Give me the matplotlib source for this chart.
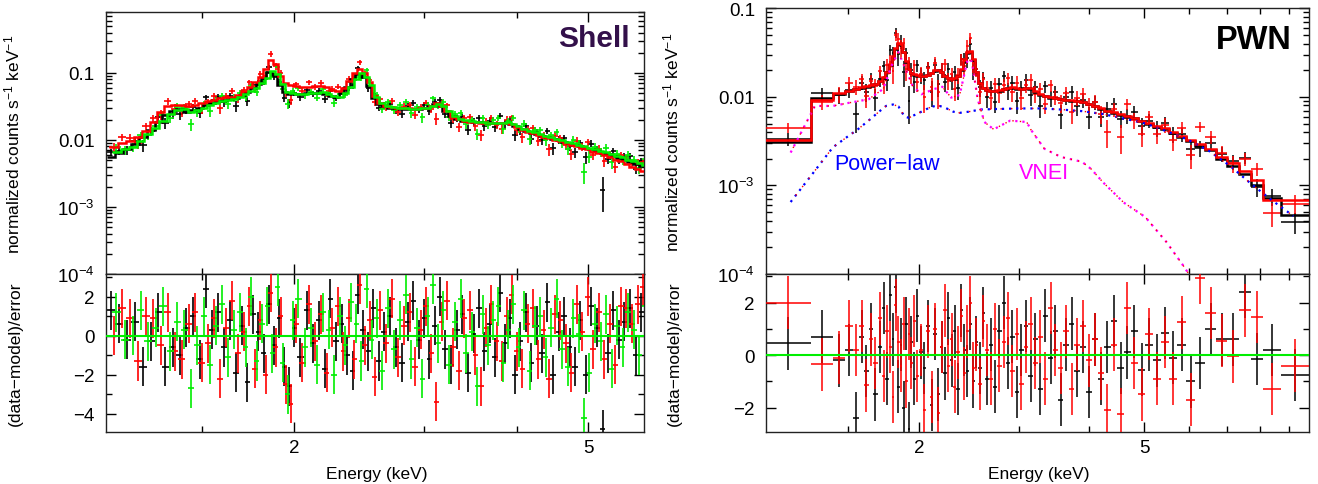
import numpy as np
import matplotlib
matplotlib.use("Agg")
import matplotlib.pyplot as plt
from matplotlib.ticker import FixedLocator, FixedFormatter, NullFormatter

# ======================= DATA : Shell (left) =======================
shell_energy_black = [
    1.13, 1.16, 1.19, 1.22, 1.25, 1.28, 1.31, 1.34, 1.37, 1.40,
    1.43, 1.46, 1.49, 1.52, 1.55, 1.58, 1.61, 1.64, 1.67, 1.70,
    1.73, 1.76, 1.79, 1.82, 1.85, 1.88, 1.91, 1.94, 1.97, 2.00,
    2.04, 2.08, 2.12, 2.16, 2.20, 2.24, 2.28, 2.32, 2.36, 2.40,
    2.44, 2.48, 2.52, 2.56, 2.60, 2.65, 2.70, 2.75, 2.80, 2.85,
    2.90, 2.95, 3.00, 3.05, 3.10, 3.15, 3.20, 3.26, 3.32, 3.38,
    3.44, 3.50, 3.56, 3.62, 3.68, 3.74, 3.80, 3.86, 3.92, 3.98,
    4.05, 4.12, 4.19, 4.26, 4.33, 4.40, 4.48, 4.56, 4.64, 4.72,
    4.80, 4.88, 4.96, 5.05, 5.14, 5.23, 5.32, 5.41, 5.50, 5.60,
    5.70, 5.80, 5.90]

shell_energy_red = [
    1.14, 1.17, 1.20, 1.23, 1.26, 1.29, 1.32, 1.35, 1.38, 1.41,
    1.44, 1.47, 1.50, 1.53, 1.56, 1.59, 1.62, 1.65, 1.68, 1.71,
    1.74, 1.77, 1.80, 1.83, 1.86, 1.89, 1.92, 1.95, 1.98, 2.013,
    2.053, 2.093, 2.133, 2.173, 2.213, 2.253, 2.293, 2.333, 2.373, 2.413,
    2.453, 2.493, 2.533, 2.573, 2.613, 2.667, 2.717, 2.767, 2.817, 2.867,
    2.917, 2.967, 3.017, 3.067, 3.117, 3.167, 3.22, 3.28, 3.34, 3.40,
    3.46, 3.52, 3.58, 3.64, 3.70, 3.76, 3.82, 3.88, 3.94, 4.003,
    4.073, 4.143, 4.213, 4.283, 4.353, 4.427, 4.507, 4.587, 4.667, 4.747,
    4.827, 4.907, 4.99, 5.08, 5.17, 5.26, 5.35, 5.44, 5.533, 5.633,
    5.733, 5.833, 5.93]

shell_energy_green = [
    1.15, 1.18, 1.21, 1.24, 1.27, 1.30, 1.33, 1.36, 1.39, 1.42,
    1.45, 1.48, 1.51, 1.54, 1.57, 1.60, 1.63, 1.66, 1.69, 1.72,
    1.75, 1.78, 1.81, 1.84, 1.87, 1.90, 1.93, 1.96, 1.99, 2.027,
    2.067, 2.107, 2.147, 2.187, 2.227, 2.267, 2.307, 2.347, 2.387, 2.427,
    2.467, 2.507, 2.547, 2.587, 2.633, 2.683, 2.733, 2.783, 2.833, 2.883,
    2.933, 2.983, 3.033, 3.083, 3.133, 3.183, 3.24, 3.30, 3.36, 3.42,
    3.48, 3.54, 3.60, 3.66, 3.72, 3.78, 3.84, 3.90, 3.96, 4.027,
    4.097, 4.167, 4.237, 4.307, 4.377, 4.453, 4.533, 4.613, 4.693, 4.773,
    4.853, 4.933, 5.02, 5.11, 5.20, 5.29, 5.38, 5.47, 5.567, 5.667,
    5.767, 5.867, 5.96]

shell_model_black = [
    .0055, .0063, .0073, .0088, .0110, .0140, .0185, .0235, .0270, .0285,
    .0265, .0275, .0300, .0330, .0355, .0375, .0395, .0405, .0425, .0470,
    .0520, .0590, .0690, .0840, .1030, .0930, .0670, .0510, .0490, .0480,
    .0485, .0495, .0500, .0505, .0485, .0445, .0435, .0495, .0610, .0810,
    .0970, .0870, .0640, .0425, .0347, .0318, .0303, .0297, .0294, .0292,
    .0291, .0294, .0299, .0318, .0342, .0318, .0268, .0224, .0204, .0194,
    .0189, .0185, .0182, .0180, .0179, .0179, .0179, .0181, .0174, .0159,
    .0147, .0137, .0129, .0121, .0115, .0110, .0104, .0099, .0093, .0089,
    .0084, .0080, .0076, .0072, .0068, .0064, .0061, .0057, .0054, .0050,
    .0047, .0044, .0041]

shell_model_red = [
    .0078, .0090, .0095, .0111, .0138, .0185, .0260, .0320, .0330, .0330,
    .0320, .0330, .0360, .0380, .0400, .0420, .0430, .0440, .0470, .0540,
    .0620, .0720, .0880, .1150, .1550, .1350, .0900, .0700, .0650, .0630,
    .0620, .0625, .0630, .0640, .0610, .0560, .0540, .0600, .0750, .0980,
    .1150, .1000, .0720, .0460, .0360, .0325, .0308, .0300, .0297, .0295,
    .0294, .0297, .0302, .0325, .0350, .0322, .0270, .0223, .0203, .0192,
    .0187, .0183, .0180, .0178, .0176, .0176, .0176, .0178, .0170, .0155,
    .0143, .0133, .0125, .0117, .0111, .0106, .0100, .0095, .0089, .0084,
    .0080, .0076, .0072, .0067, .0063, .0059, .0055, .0051, .0048, .0044,
    .0040, .0037, .0034]

shell_model_green = [
    .0066, .0072, .0079, .0098, .0123, .0150, .0194, .0244, .0280, .0290,
    .0265, .0275, .0300, .0330, .0360, .0380, .0400, .0410, .0430, .0480,
    .0530, .0600, .0700, .0850, .1050, .0950, .0680, .0520, .0500, .0490,
    .0490, .0500, .0505, .0510, .0490, .0450, .0440, .0500, .0620, .0820,
    .0980, .0880, .0650, .0430, .0350, .0320, .0305, .0298, .0295, .0293,
    .0292, .0295, .0300, .0320, .0345, .0320, .0270, .0225, .0205, .0195,
    .0190, .0186, .0183, .0181, .0180, .0180, .0180, .0182, .0175, .0160,
    .0148, .0138, .0130, .0122, .0116, .0111, .0105, .0100, .0094, .0090,
    .0085, .0081, .0077, .0073, .0069, .0065, .0062, .0058, .0055, .0051,
    .0048, .0045, .0042]

shell_relerr = [
    .15, .15, .15, .15, .15, .15, .15, .15, .15, .15,
    .13, .13, .13, .13, .13, .13, .13, .13, .13, .13,
    .11, .11, .11, .11, .11, .11, .11, .11, .11, .11,
    .10, .10, .10, .10, .10, .10, .10, .10, .10, .10,
    .10, .10, .10, .10, .10, .12, .12, .12, .12, .12,
    .12, .12, .12, .12, .12, .12, .12, .13, .13, .13,
    .13, .13, .13, .13, .13, .13, .13, .13, .13, .13,
    .14, .14, .14, .14, .14, .14, .14, .14, .14, .14,
    .14, .14, .14, .15, .15, .15, .15, .15, .15, .15,
    .15, .15, .15]

shell_resid_black = [
    1.3, 0.6, -0.2, 0.7, -1.6, -0.3, 1.2, -1.6, -0.6, -1.0,
    0.4, 1.0, -1.2, 2.4, 0.3, 1.2, -0.6, 0.8, -1.9, 0.5,
    -2.4, 1.1, 0.2, -0.9, 1.6, -0.5, 0.9, -1.6, -2.6, 0.4,
    -1.1, 1.3, -0.4, 0.8, -1.7, 1.9, -0.3, 0.6, -1.0, -1.8,
    2.1, 0.3, -0.8, 1.4, -1.3, 0.2, 1.0, -0.6, -1.4, 0.7,
    1.8, -0.2, 0.9, -1.2, 0.5, 2.0, -0.7, -1.5, 0.3, 1.1,
    -1.9, 0.1, 1.4, -0.8, 0.6, -1.1, 2.2, -0.4, 0.9, -2.0,
    -0.3, 1.2, -1.4, 0.5, -0.9, 1.7, -2.0, 0.2, 1.0, -0.6,
    -1.6, 0.8, -2.0, 1.5, 0.4, -4.8, -0.9, 1.3, -0.2, 0.7,
    1.4, -1.0, 1.2]

shell_resid_red = [
    0.0, 1.4, 0.9, -1.3, 1.0, 0.9, -0.5, 1.2, -0.8, -1.2,
    0.6, 1.2, -1.4, -0.4, 0.9, -2.2, 0.4, 1.8, -0.9, 0.2,
    1.5, -1.7, 0.8, -2.0, 2.2, -0.6, 1.0, -2.5, -3.5, 0.6,
    -1.4, 1.6, -0.3, 1.1, -1.9, 0.4, 1.5, -0.8, 0.9, -1.2,
    2.6, -0.5, 0.8, -2.1, 1.3, -0.4, 1.9, -1.1, 0.5, 1.2,
    -1.6, 0.3, 1.5, -0.9, -3.4, 0.7, 1.8, -0.6, -1.8, 0.9,
    1.3, -1.0, -2.6, 0.4, 1.6, -0.3, -1.3, 1.0, 2.1, -0.8,
    -1.7, 0.6, 1.4, -1.2, 0.3, -2.2, 1.1, 0.8, -0.4, -1.9,
    1.6, 0.2, 2.0, -0.7, 1.2, -1.2, 0.6, -1.5, 1.5, 1.4,
    0.6, 1.6, 2.5]

shell_resid_green = [
    1.2, -0.2, 0.0, 1.3, -0.3, 0.4, 1.5, -0.8, 0.7, 0.3,
    -2.7, -0.5, 1.0, -1.5, 0.5, 1.6, -1.1, 0.3, 1.2, -0.6,
    2.0, -1.3, 0.6, 1.5, -0.9, 2.5, -1.4, -3.0, 0.8, 1.9,
    -0.6, 0.4, -1.5, 1.2, 0.3, -2.0, 1.0, -0.5, 1.7, 0.6,
    -1.3, 2.4, -0.2, 0.9, -1.8, 1.4, -0.7, 0.8, 2.1, -1.2,
    0.4, -2.2, 1.0, 2.6, -0.4, 1.3, -1.5, 0.7, 1.9, -0.9,
    0.2, -2.6, 1.1, -0.5, 0.8, 1.5, -1.4, 0.3, 1.6, -0.6,
    1.3, -1.8, 0.5, 1.0, -1.1, 0.4, 1.9, -0.7, -1.6, 0.9,
    0.1, -4.2, -1.9, 0.6, -0.3, 1.1, -1.7, 0.5, -0.6, 1.2,
    0.3, -1.0, 1.5]

# ======================= DATA : PWN (right) =======================
pwn_edges = [
    1.07, 1.29, 1.41, 1.48, 1.53, 1.57, 1.60, 1.63, 1.66, 1.69,
    1.72, 1.745, 1.77, 1.79, 1.81, 1.83, 1.85, 1.87, 1.89, 1.91,
    1.93, 1.95, 1.975, 2.00, 2.03, 2.06, 2.09, 2.12, 2.15, 2.18,
    2.21, 2.24, 2.27, 2.30, 2.33, 2.36, 2.39, 2.42, 2.45, 2.48,
    2.51, 2.54, 2.58, 2.62, 2.66, 2.70, 2.75, 2.80, 2.85, 2.90,
    2.95, 3.00, 3.06, 3.12, 3.18, 3.24, 3.31, 3.38, 3.45, 3.52,
    3.60, 3.68, 3.76, 3.85, 3.94, 4.04, 4.14, 4.25, 4.36, 4.48,
    4.60, 4.73, 4.87, 5.02, 5.18, 5.35, 5.53, 5.72, 5.93, 6.15,
    6.40, 6.70, 7.00, 7.35, 7.72, 8.10, 8.70, 9.77]

pwn_model_black = [
    .0031, .0097, .0108, .0115, .0122, .0127, .0130, .0133, .0138, .0150,
    .0165, .0190, .0230, .0280, .0350, .0400, .0390, .0320, .0250, .0205,
    .0185, .0178, .0174, .0172, .0172, .0176, .0185, .0196, .0200, .0190,
    .0172, .0162, .0158, .0160, .0170, .0200, .0250, .0310, .0320, .0260,
    .0190, .0142, .0125, .0120, .0117, .0116, .0118, .0122, .0126, .0127,
    .0124, .0122, .0126, .0124, .0114, .0106, .0101, .0098, .0096, .0094,
    .0092, .0091, .0089, .0087, .0083, .0078, .0073, .0069, .0066, .0063,
    .0060, .0057, .0053, .0050, .0046, .0043, .0039, .0035, .0032, .0028,
    .0025, .0020, .00165, .00135, .0010, .00072, .00046]

pwn_model_red = [
    .0033, .0093, .0110, .0117, .0124, .0129, .0132, .0135, .0140, .0152,
    .0167, .0193, .0235, .0290, .0360, .0410, .0395, .0325, .0255, .0208,
    .0187, .0180, .0176, .0174, .0174, .0178, .0188, .0199, .0203, .0192,
    .0174, .0164, .0160, .0162, .0172, .0205, .0260, .0320, .0330, .0265,
    .0192, .0144, .0127, .0121, .0118, .0117, .0119, .0123, .0127, .0128,
    .0125, .0123, .0127, .0125, .0115, .0107, .0102, .0099, .0097, .0095,
    .0093, .0092, .0090, .0088, .0084, .0079, .0074, .0070, .0067, .0064,
    .0061, .0058, .0054, .0051, .0047, .0044, .0040, .0036, .0033, .0029,
    .0026, .0021, .0018, .00145, .00115, .00068, .00068]

pwn_relerr = [
    .18, .18, .20, .20, .20, .20, .20, .20, .20, .20,
    .20, .20, .20, .20, .20, .20, .20, .20, .20, .20,
    .20, .20, .20, .20, .20, .20, .20, .20, .20, .20,
    .20, .20, .20, .20, .20, .20, .20, .20, .20, .20,
    .20, .20, .20, .20, .20, .20, .20, .20, .20, .20,
    .20, .20, .20, .20, .20, .20, .20, .20, .20, .20,
    .20, .20, .20, .20, .20, .20, .20, .20, .20, .20,
    .20, .20, .20, .20, .20, .20, .20, .20, .20, .20,
    .22, .22, .22, .22, .22, .22, .22]

pwn_resid_black = [
    0.45, 0.7, -0.2, 0.2, -2.4, 0.7, -0.6, 1.0, -1.5, 0.3,
    1.8, -0.9, 2.3, 0.6, 2.6, -1.2, 0.4, -2.0, 1.2, -2.8,
    0.5, -0.9, 1.5, 0.1, -0.5, 1.1, -1.9, 0.8, -1.5, 0.3,
    -0.7, 1.4, -0.2, 0.9, -1.3, 1.7, 0.2, -0.6, 1.2, -1.0,
    0.5, -0.5, 1.6, -0.9, 0.4, -1.2, 0.9, 2.0, -0.3, 0.7,
    -1.4, 0.2, 1.1, -0.8, 0.6, -1.3, 1.5, -0.1, 0.9, -1.7,
    0.4, 1.2, -0.6, 0.3, -1.4, 0.6, -0.9, 0.3, 1.3, -0.5,
    0.1, 0.9, -0.55, 0.4, -0.2, 0.85, -0.1, 0.4, -1.0, -0.3,
    1.0, 0.6, 0.6, 2.4, -0.15, 0.2, -0.75]

pwn_resid_red = [
    2.0, -0.35, -0.1, 1.1, 0.2, 1.1, -1.15, 0.6, -0.3, 1.4,
    -0.8, 0.9, 0.3, -1.6, 1.9, 0.5, -0.4, 1.2, -1.0, 0.8,
    -0.3, 1.3, -0.8, 0.2, -2.1, 0.9, -1.6, 1.0, -2.2, 0.3,
    1.7, -0.4, 0.6, -1.2, 0.1, 1.5, -0.7, 0.9, 2.0, -0.5,
    0.4, -1.1, 1.3, 0.2, -0.9, 1.0, -0.4, 0.5, 1.4, -0.6,
    0.8, -1.1, 0.3, 1.2, -0.3, 0.7, -0.9, 1.8, 0.2, -0.5,
    0.9, -1.3, 0.4, 1.1, -0.2, 0.6, -0.7, -2.1, 0.4, -2.25,
    1.8, -0.3, -1.5, 0.8, -0.9, 0.5, -0.9, 1.25, -1.7, 2.95,
    1.6, 0.55, -0.05, 1.7, 1.45, -1.3, -0.4]

# model components (PWN)
powerlaw_energy = [1.187, 1.29, 1.41, 1.50, 1.56, 1.63, 1.70, 1.75, 1.80, 1.84,
                   1.886, 1.92, 1.95, 2.02, 2.10, 2.16, 2.22, 2.30, 2.36, 2.45,
                   2.57, 2.75, 3.00, 3.30, 3.56, 3.88, 4.23, 4.60, 5.02, 5.47,
                   5.96, 6.50, 7.08, 7.71, 8.40, 8.97, 9.16]
powerlaw_flux = [0.00065, 0.00129, 0.0027, 0.0036, 0.0043, 0.0054, 0.0068, 0.0079, 0.0082, 0.0078,
                 0.0060, 0.0058, 0.0061, 0.0068, 0.0077, 0.0080, 0.0076, 0.0068, 0.0066, 0.0068,
                 0.0072, 0.0073, 0.0074, 0.0074, 0.0072, 0.0069, 0.0064, 0.0057, 0.0050, 0.0041,
                 0.0033, 0.00246, 0.00167, 0.00105, 0.00068, 0.00050, 0.00045]
vnei_energy = [1.187, 1.29, 1.31, 1.41, 1.51, 1.63, 1.73, 1.79, 1.84, 1.886,
               1.95, 2.02, 2.13, 2.20, 2.28, 2.36, 2.44, 2.48, 2.54, 2.61,
               2.71, 2.90, 3.10, 3.15, 3.33, 3.56, 3.88, 4.03, 4.23, 4.60,
               5.02, 5.47, 5.86, 6.06, 6.50]
vnei_flux = [0.00235, 0.0065, 0.0079, 0.0079, 0.0086, 0.0094, 0.0123, 0.0226, 0.032, 0.022,
             0.0133, 0.0107, 0.0123, 0.0130, 0.0098, 0.0105, 0.027, 0.025, 0.0094, 0.0052,
             0.0043, 0.0054, 0.0052, 0.0043, 0.0026, 0.0021, 0.00185, 0.00153, 0.00108, 0.00064,
             0.00044, 0.00023, 0.000124, 0.00009, 0.00005]

# ======================= PLOTTING =======================
plt.rcParams['font.family'] = ['Liberation Sans', 'DejaVu Sans']
plt.rcParams['mathtext.default'] = 'regular'
plt.rcParams['axes.unicode_minus'] = True

BLACK, RED, GREEN = '#000000', '#ff0000', '#00ee00'

fig = plt.figure(figsize=(13.18, 4.85), dpi=100)
axL = fig.add_axes([0.0804, 0.4330, 0.4082, 0.5402])
axLr = fig.add_axes([0.0804, 0.1072, 0.4082, 0.3258], sharex=axL)
axR = fig.add_axes([0.5812, 0.4330, 0.4120, 0.5478])
axRr = fig.add_axes([0.5812, 0.1072, 0.4120, 0.3258], sharex=axR)


def edges_from_centers(c):
    lc = np.log10(np.asarray(c, float))
    mid = 0.5 * (lc[1:] + lc[:-1])
    e = np.concatenate([[lc[0] - (mid[0] - lc[0])], mid, [lc[-1] + (lc[-1] - mid[-1])]])
    return 10 ** e


def draw_series(ax_top, ax_res, edges, model, resid, relerr, color, z, mlw=1.8, elw=1.1):
    edges = np.asarray(edges, float)
    model = np.asarray(model, float)
    resid = np.asarray(resid, float)
    relerr = np.asarray(relerr, float)
    centers = np.sqrt(edges[:-1] * edges[1:])
    err = model * relerr
    data = model + resid * err
    xerr = [centers - edges[:-1], edges[1:] - centers]
    ax_top.errorbar(centers, data, yerr=err, xerr=xerr, fmt='none', ecolor=color,
                    elinewidth=elw, capsize=0, zorder=z)
    ax_res.errorbar(centers, resid, yerr=np.ones_like(resid), xerr=xerr, fmt='none',
                    ecolor=color, elinewidth=elw, capsize=0, zorder=z)
    ax_top.stairs(model, edges, color=color, lw=mlw, zorder=z + 10, baseline=None)


# ---- Shell ----
draw_series(axL, axLr, edges_from_centers(shell_energy_black), shell_model_black,
            shell_resid_black, shell_relerr, BLACK, 2, elw=1.2)
draw_series(axL, axLr, edges_from_centers(shell_energy_red), shell_model_red,
            shell_resid_red, shell_relerr, RED, 3, elw=1.2)
draw_series(axL, axLr, edges_from_centers(shell_energy_green), shell_model_green,
            shell_resid_green, shell_relerr, GREEN, 4, elw=1.2)
axLr.axhline(0, color=GREEN, lw=1.5, zorder=20)

# ---- PWN ----
draw_series(axR, axRr, pwn_edges, pwn_model_black, pwn_resid_black, pwn_relerr, BLACK, 2)
draw_series(axR, axRr, pwn_edges, pwn_model_red, pwn_resid_red, pwn_relerr, RED, 3)
axRr.axhline(0, color=GREEN, lw=1.5, zorder=20)

axR.plot(powerlaw_energy, powerlaw_flux, color='#0000ff', lw=1.6, ls=(0, (1, 2.2)), zorder=30)
axR.plot(powerlaw_energy, powerlaw_flux, color=RED, lw=1.0, ls=(1.6, (1, 6.6)), zorder=31)
axR.plot(vnei_energy, vnei_flux, color='#ff00ff', lw=1.6, ls=(0, (1, 2.2)), zorder=30)
axR.plot(vnei_energy, vnei_flux, color=RED, lw=1.0, ls=(1.6, (1, 4.4)), zorder=31)

axR.text(1.42, 0.00179, 'Power\u2212law', color='#0000ff', fontsize=15.5, ha='left', va='center')
axR.text(3.0, 0.0014, 'VNEI', color='#ff00ff', fontsize=15.5, ha='left', va='center')

axL.text(0.974, 0.90, 'Shell', transform=axL.transAxes, ha='right', va='center',
         fontsize=21.5, fontweight='bold', color='#33104a')
axR.text(0.968, 0.881, 'PWN', transform=axR.transAxes, ha='right', va='center',
         fontsize=23.5, fontweight='bold', color='#000000')

# ---- axes styling ----
ydec = [1e-4, 1e-3, 1e-2, 1e-1]
ylab = ['10$^{-4}$', '10$^{-3}$', '0.01', '0.1']
yminor = [m * d for d in [1e-4, 1e-3, 1e-2, 1e-1] for m in range(2, 10)]

for ax, xlim, xmin in [(axL, (1.113, 5.95), [1.5, 3, 4]),
                       (axR, (1.074, 9.77), [1.5, 3, 4, 6, 7, 8, 9])]:
    ax.set_xscale('log')
    ax.set_yscale('log')
    ax.set_xlim(*xlim)
    ax.xaxis.set_major_locator(FixedLocator([2, 5]))
    ax.xaxis.set_minor_locator(FixedLocator(xmin))
    ax.xaxis.set_major_formatter(FixedFormatter(['2', '5']))
    ax.xaxis.set_minor_formatter(NullFormatter())
    ax.yaxis.set_major_locator(FixedLocator(ydec))
    ax.yaxis.set_major_formatter(FixedFormatter(ylab))
    ax.yaxis.set_minor_locator(FixedLocator(yminor))
    ax.yaxis.set_minor_formatter(NullFormatter())
    ax.tick_params(labelbottom=False)
    ax.set_ylabel('normalized counts s$^{-1}$ keV$^{-1}$', fontsize=12.5)
    ax.yaxis.set_label_coords(-0.155, 0.5)

axL.set_ylim(1e-4, 0.81)
axR.set_ylim(1e-4, 0.1)

axLr.set_ylim(-4.94, 3.16)
axRr.set_ylim(-2.93, 3.09)
axLr.yaxis.set_major_locator(FixedLocator([-4, -2, 0, 2]))
axLr.yaxis.set_minor_locator(FixedLocator([-5, -3, -1, 1, 3]))
axRr.yaxis.set_major_locator(FixedLocator([-2, 0, 2]))
axRr.yaxis.set_minor_locator(FixedLocator([-3, -1, 1, 3]))

for ax in (axLr, axRr):
    ax.set_xlabel('Energy (keV)', fontsize=12.5)
    ax.xaxis.set_label_coords(0.503, -0.215)
    ax.set_ylabel('(data\u2212model)/error', fontsize=12.5)
    ax.yaxis.set_label_coords(-0.155, 0.5)
    ax.tick_params(labelbottom=True)

for ax in (axL, axLr, axR, axRr):
    ax.tick_params(which='both', direction='in', top=True, right=True, labelsize=13.5)
    ax.tick_params(which='major', length=7, width=1.0)
    ax.tick_params(which='minor', length=4, width=1.0)
    ax.tick_params(axis='y', pad=8)
    ax.tick_params(axis='x', pad=5)
    for s in ax.spines.values():
        s.set_linewidth(1.0)
        s.set_color('#222222')
    ax.set_facecolor('white')
axL.tick_params(labelbottom=False)
axR.tick_params(labelbottom=False)

fig.savefig('out.png', dpi=100, facecolor='white')
